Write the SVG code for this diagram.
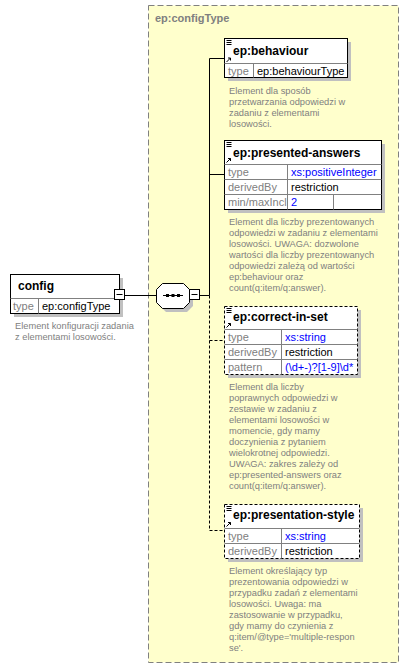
<svg xmlns="http://www.w3.org/2000/svg" width="409" height="669" viewBox="0 0 409 669">
<style>
.bg{fill:#fff}
.ct{fill:#FFFFCC;stroke:#808080;stroke-width:1;stroke-dasharray:6,3}
.ctt{font-family:"Liberation Sans",Arial,sans-serif;font-size:11px;font-weight:bold;fill:#808080}
.box{fill:#fff;stroke:#000;stroke-width:1}
.dbox{fill:#fff;stroke:#000;stroke-width:1;stroke-dasharray:3,2}
.sh{fill:#C0C0C0}
.ln{stroke:#000;stroke-width:1;fill:none}
.gl{stroke:#808080;stroke-width:1;fill:none}
.dl{stroke:#000;stroke-width:1;fill:none;stroke-dasharray:3,2}
.ttl{font-family:"Liberation Sans",Arial,sans-serif;font-size:12px;font-weight:bold;fill:#000}
.lab{font-family:"Liberation Sans",Arial,sans-serif;font-size:11px;fill:#808080}
.val{font-family:"Liberation Sans",Arial,sans-serif;font-size:11px;fill:#000}
.blu{font-family:"Liberation Sans",Arial,sans-serif;font-size:11px;fill:#0000FF}
.desc{font-family:"Liberation Sans",Arial,sans-serif;font-size:9.3px;fill:#808080}
</style>
<rect x="0" y="0" width="409" height="669" class="bg"/>
<g id="configType">
<rect x="148.5" y="5.5" width="250" height="657" class="ct"/>
<text x="155" y="22" class="ctt">ep:configType</text>
</g>
<g id="connectors">
<line x1="125" y1="295.5" x2="156" y2="295.5" class="ln"/>
<line x1="200" y1="295.5" x2="209.5" y2="295.5" class="ln"/>
<polyline points="224,58.5 209.5,58.5 209.5,295.5" class="ln"/>
<line x1="209.5" y1="174.5" x2="224" y2="174.5" class="ln"/>
<polyline points="209.5,295.5 209.5,530.5 224,530.5" class="dl"/>
<line x1="209.5" y1="340.5" x2="224" y2="340.5" class="dl"/>
</g>
<g id="config">
<rect x="14" y="278" width="109" height="39" class="sh"/>
<rect x="10.5" y="274.5" width="109" height="39" class="box"/>
<line x1="10.5" y1="298.5" x2="119.5" y2="298.5" class="gl"/>
<line x1="38.5" y1="298.5" x2="38.5" y2="313.5" class="gl"/>
<text x="18" y="290" class="ttl">config</text>
<text x="13" y="310" class="lab">type</text>
<text x="42" y="310" class="val">ep:configType</text>
<rect x="114.5" y="289.5" width="10" height="10" class="box"/>
<line x1="116.5" y1="294.5" x2="122.5" y2="294.5" class="ln"/>
<text x="15" y="328.5" class="desc">Element konfiguracji zadania</text>
<text x="15" y="339.5" class="desc">z elementami losowości.</text>
</g>
<g id="sequence">
<polygon points="166,287 187,287 193,293 193,306 187,312 166,312 160,306 160,293" class="sh"/>
<polygon points="162.5,283.5 183.5,283.5 189.5,289.5 189.5,302.5 183.5,308.5 162.5,308.5 156.5,302.5 156.5,289.5" class="box"/>
<line x1="163" y1="295.5" x2="183" y2="295.5" class="ln"/>
<rect x="166" y="294" width="3" height="3" fill="#000"/>
<rect x="171.5" y="294" width="3" height="3" fill="#000"/>
<rect x="177" y="294" width="3" height="3" fill="#000"/>
<rect x="189.5" y="289.5" width="10" height="10" class="box"/>
<line x1="191.5" y1="294.5" x2="197.5" y2="294.5" class="ln"/>
</g>
<g id="behaviour">
<rect x="228" y="42" width="123" height="39" class="sh"/>
<rect x="224.5" y="38.5" width="123" height="39" class="box"/>
<line x1="224.5" y1="63.5" x2="347.5" y2="63.5" class="gl"/>
<line x1="253.5" y1="63.5" x2="253.5" y2="77.5" class="gl"/>
<path d="M226.5,40.5h5M226.5,42.5h5M226.5,44.5h5" class="ln"/>
<path d="M226.5,62l4,-4M228,58h2.5v2.5" class="ln"/>
<text x="233" y="55" class="ttl">ep:behaviour</text>
<text x="228" y="74.5" class="lab">type</text>
<text x="257" y="74.5" class="val">ep:behaviourType</text>
<text x="229" y="93.5" class="desc">Element dla sposób</text>
<text x="229" y="104.6" class="desc">przetwarzania odpowiedzi w</text>
<text x="229" y="115.7" class="desc">zadaniu z elementami</text>
<text x="229" y="126.8" class="desc">losowości.</text>
</g>
<g id="presented-answers">
<rect x="228" y="144" width="157" height="69" class="sh"/>
<rect x="224.5" y="140.5" width="157" height="69" class="box"/>
<line x1="224.5" y1="164.5" x2="381.5" y2="164.5" class="gl"/>
<line x1="224.5" y1="179.5" x2="381.5" y2="179.5" class="gl"/>
<line x1="224.5" y1="194.5" x2="381.5" y2="194.5" class="gl"/>
<line x1="287.5" y1="164.5" x2="287.5" y2="209.5" class="gl"/>
<line x1="333.5" y1="194.5" x2="333.5" y2="209.5" class="gl"/>
<path d="M226.5,142.5h5M226.5,144.5h5M226.5,146.5h5" class="ln"/>
<path d="M226.5,162.5l4,-4M228,158.5h2.5v2.5" class="ln"/>
<text x="233" y="156.5" class="ttl">ep:presented-answers</text>
<text x="228" y="176" class="lab">type</text>
<text x="291" y="176" class="blu">xs:positiveInteger</text>
<text x="228" y="191" class="lab">derivedBy</text>
<text x="291" y="191" class="val">restriction</text>
<text x="228" y="206" class="lab">min/maxIncl</text>
<text x="291" y="206" class="blu">2</text>
<text x="229" y="225.3" class="desc">Element dla liczby prezentowanych</text>
<text x="229" y="236.3" class="desc">odpowiedzi w zadaniu z elementami</text>
<text x="229" y="247.3" class="desc">losowości. UWAGA: dozwolone</text>
<text x="229" y="258.3" class="desc">wartości dla liczby prezentowanych</text>
<text x="229" y="269.3" class="desc">odpowiedzi zależą od wartości</text>
<text x="229" y="280.3" class="desc">ep:behaviour oraz</text>
<text x="229" y="291.3" class="desc">count(q:item/q:answer).</text>
</g>
<g id="correct-in-set">
<rect x="228" y="310" width="133" height="68" class="sh"/>
<rect x="224.5" y="306.5" width="133" height="68" class="dbox"/>
<line x1="224.5" y1="329.5" x2="357.5" y2="329.5" class="gl"/>
<line x1="224.5" y1="344.5" x2="357.5" y2="344.5" class="gl"/>
<line x1="224.5" y1="359.5" x2="357.5" y2="359.5" class="gl"/>
<line x1="281.5" y1="329.5" x2="281.5" y2="374.5" class="gl"/>
<path d="M226.5,308.5h5M226.5,310.5h5M226.5,312.5h5" class="ln"/>
<path d="M226.5,327.5l4,-4M228,323.5h2.5v2.5" class="ln"/>
<text x="233" y="321" class="ttl">ep:correct-in-set</text>
<text x="228" y="341" class="lab">type</text>
<text x="285" y="341" class="blu">xs:string</text>
<text x="228" y="356" class="lab">derivedBy</text>
<text x="285" y="356" class="val">restriction</text>
<text x="228" y="371" class="lab">pattern</text>
<text x="285" y="371" class="blu">(\d+-)?[1-9]\d*</text>
<text x="229" y="390.2" class="desc">Element dla liczby</text>
<text x="229" y="401.2" class="desc">poprawnych odpowiedzi w</text>
<text x="229" y="412.2" class="desc">zestawie w zadaniu z</text>
<text x="229" y="423.2" class="desc">elementami losowości w</text>
<text x="229" y="434.2" class="desc">momencie, gdy mamy</text>
<text x="229" y="445.2" class="desc">doczynienia z pytaniem</text>
<text x="229" y="456.2" class="desc">wielokrotnej odpowiedzi.</text>
<text x="229" y="467.2" class="desc">UWAGA: zakres zależy od</text>
<text x="229" y="478.2" class="desc">ep:presented-answers oraz</text>
<text x="229" y="489.2" class="desc">count(q:item/q:answer).</text>
</g>
<g id="presentation-style">
<rect x="228" y="508" width="135" height="54" class="sh"/>
<rect x="224.5" y="504.5" width="135" height="54" class="dbox"/>
<line x1="224.5" y1="528.5" x2="359.5" y2="528.5" class="gl"/>
<line x1="224.5" y1="543.5" x2="359.5" y2="543.5" class="gl"/>
<line x1="281.5" y1="528.5" x2="281.5" y2="558.5" class="gl"/>
<path d="M226.5,506.5h5M226.5,508.5h5M226.5,510.5h5" class="ln"/>
<path d="M226.5,526.5l4,-4M228,522.5h2.5v2.5" class="ln"/>
<text x="233" y="519" class="ttl">ep:presentation-style</text>
<text x="228" y="540" class="lab">type</text>
<text x="285" y="540" class="blu">xs:string</text>
<text x="228" y="555" class="lab">derivedBy</text>
<text x="285" y="555" class="val">restriction</text>
<text x="229" y="573.5" class="desc">Element określający typ</text>
<text x="229" y="584.5" class="desc">prezentowania odpowiedzi w</text>
<text x="229" y="595.5" class="desc">przypadku zadań z elementami</text>
<text x="229" y="606.5" class="desc">losowości. Uwaga: ma</text>
<text x="229" y="617.5" class="desc">zastosowanie w przypadku,</text>
<text x="229" y="628.5" class="desc">gdy mamy do czynienia z</text>
<text x="229" y="639.5" class="desc">q:item/@type='multiple-respon</text>
<text x="229" y="650.5" class="desc">se'.</text>
</g>
</svg>
